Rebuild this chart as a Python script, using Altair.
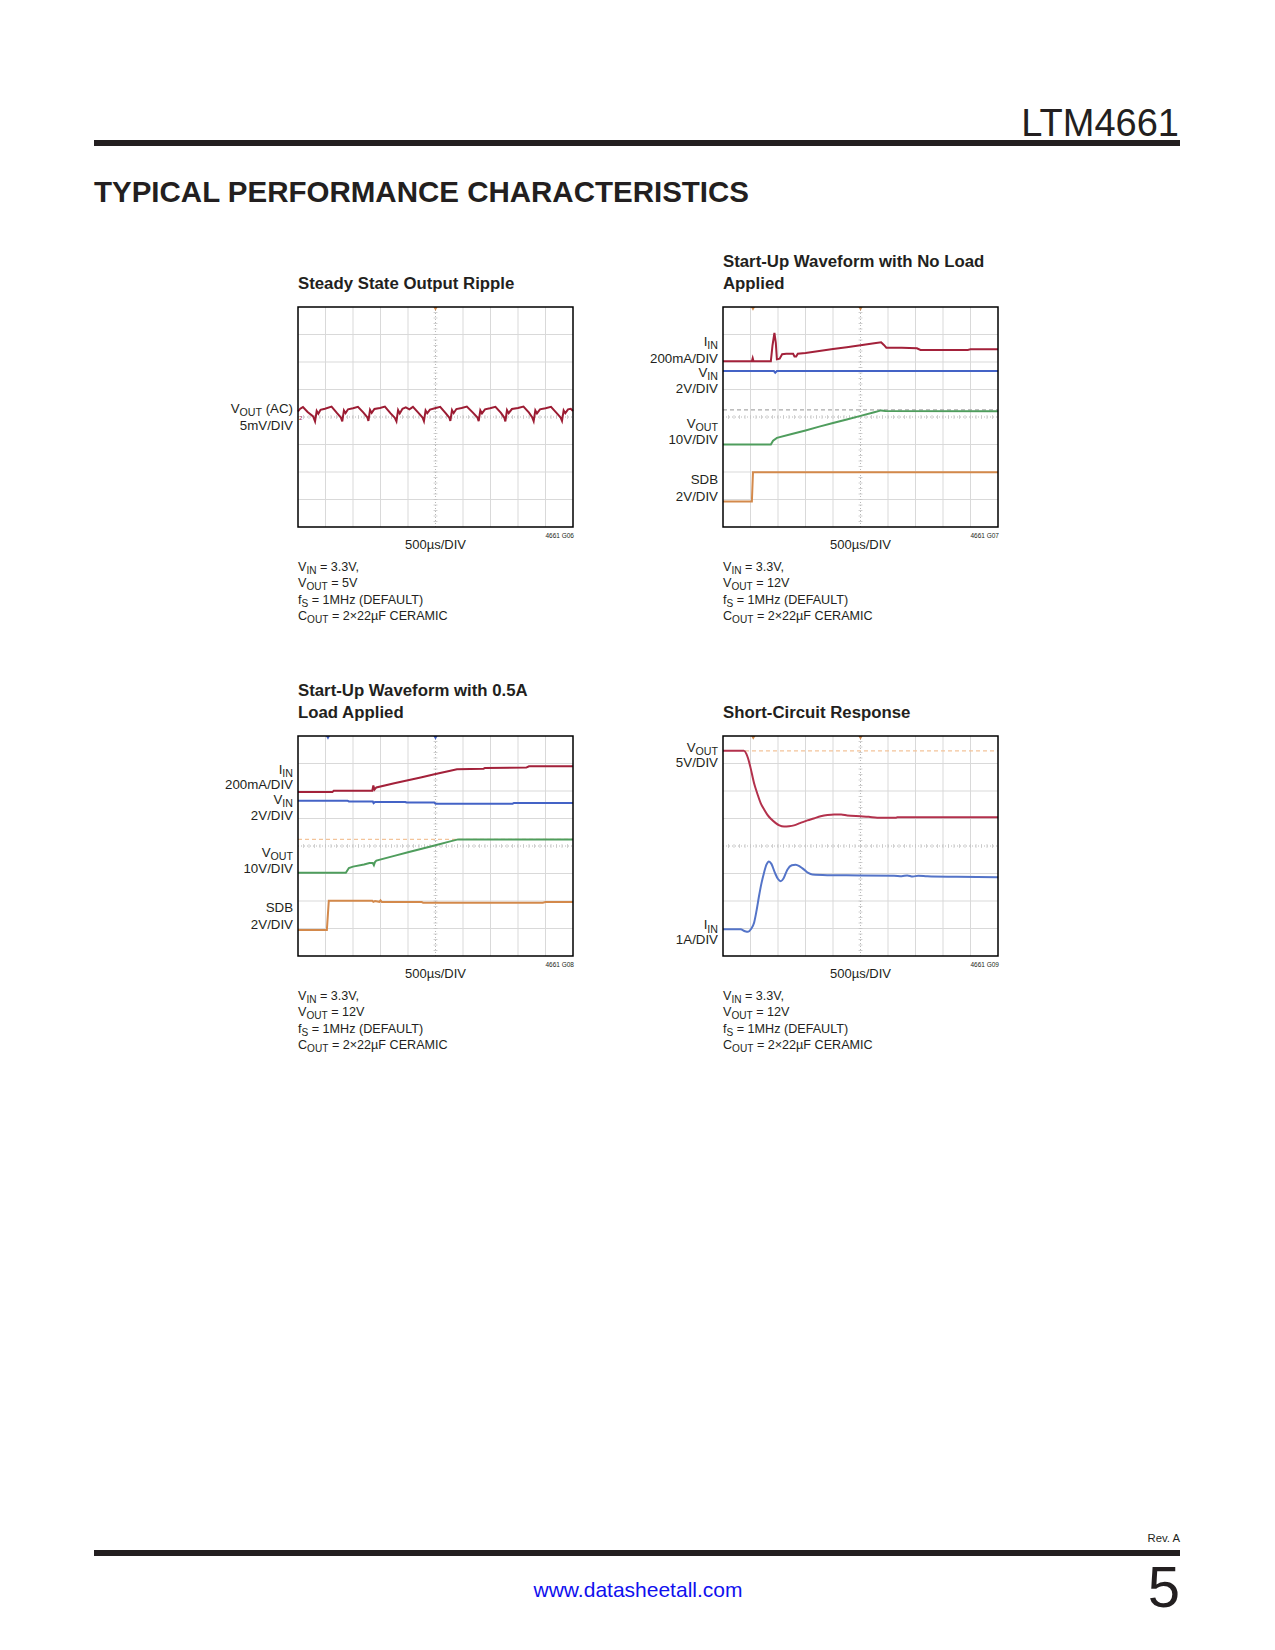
import altair as alt
import pandas as pd
import numpy as np

# ------------------------------------------------------------------ content
PART = "LTM4661"
SECTION = "TYPICAL PERFORMANCE CHARACTERISTICS"
REV = "Rev. A"
PAGE_NO = "5"
URL = "www.datasheetall.com"
TIME_DIV = "500µs/DIV"

titles = [
    ["Steady State Output Ripple"],
    ["Start-Up Waveform with No Load", "Applied"],
    ["Start-Up Waveform with 0.5A", "Load Applied"],
    ["Short-Circuit Response"],
]
fig_ids = ["4661 G06", "4661 G07", "4661 G08", "4661 G09"]

cap_vin = [("V", 0), ("IN", 1), (" = 3.3V,", 0)]
cap_fs = [("f", 0), ("S", 1), (" = 1MHz (DEFAULT)", 0)]
cap_cout = [("C", 0), ("OUT", 1), (" = 2×22µF CERAMIC", 0)]
captions = [
    [cap_vin, [("V", 0), ("OUT", 1), (" = 5V", 0)], cap_fs, cap_cout],
    [cap_vin, [("V", 0), ("OUT", 1), (" = 12V", 0)], cap_fs, cap_cout],
    [cap_vin, [("V", 0), ("OUT", 1), (" = 12V", 0)], cap_fs, cap_cout],
    [cap_vin, [("V", 0), ("OUT", 1), (" = 12V", 0)], cap_fs, cap_cout],
]

ch_labels = [
    [[("V", 0), ("OUT", 1), (" (AC)", 0)], [("5mV/DIV", 0)]],
    [[("I", 0), ("IN", 1)], [("200mA/DIV", 0)], [("V", 0), ("IN", 1)], [("2V/DIV", 0)],
     [("V", 0), ("OUT", 1)], [("10V/DIV", 0)], [("SDB", 0)], [("2V/DIV", 0)]],
    [[("I", 0), ("IN", 1)], [("200mA/DIV", 0)], [("V", 0), ("IN", 1)], [("2V/DIV", 0)],
     [("V", 0), ("OUT", 1)], [("10V/DIV", 0)], [("SDB", 0)], [("2V/DIV", 0)]],
    [[("V", 0), ("OUT", 1)], [("5V/DIV", 0)], [("I", 0), ("IN", 1)], [("1A/DIV", 0)]],
]

# ------------------------------------------------------------------ traces (divisions)
# Scope 1: VOUT ripple
rip_x = [0.00, 0.08, 0.18, 0.35, 0.55, 0.62, 0.68, 0.74, 0.82, 0.98, 1.22, 1.42, 1.56, 1.61, 1.67,
         1.73, 1.82, 2.00, 2.18, 2.38, 2.52, 2.56, 2.62, 2.68, 2.78, 2.98, 3.16, 3.36, 3.52, 3.58,
         3.64, 3.70, 3.80, 3.92, 4.05, 4.18, 4.38, 4.53, 4.58, 4.64, 4.70, 4.80, 4.98, 5.17, 5.36,
         5.50, 5.54, 5.60, 5.66, 5.76, 5.95, 6.14, 6.36, 6.52, 6.57, 6.63, 6.69, 6.80, 6.98, 7.18,
         7.38, 7.50, 7.54, 7.60, 7.66, 7.78, 8.00, 8.20, 8.40, 8.52, 8.57, 8.63, 8.69, 8.80, 9.00,
         9.20, 9.40, 9.55, 9.60, 9.66, 9.72, 9.82, 9.92, 10.00]
rip_y = [4.20, 4.30, 4.36, 4.18, 4.02, 3.84, 4.22, 4.12, 4.26, 4.30, 4.38, 4.14, 3.98, 3.84, 4.24,
         4.14, 4.28, 4.32, 4.37, 4.16, 3.99, 3.86, 4.26, 4.15, 4.29, 4.33, 4.38, 4.14, 3.97, 3.84,
         4.25, 4.13, 4.30, 4.35, 4.28, 4.37, 4.15, 3.98, 3.85, 4.24, 4.14, 4.27, 4.32, 4.37, 4.15,
         3.98, 3.86, 4.25, 4.14, 4.29, 4.33, 4.38, 4.16, 3.99, 3.85, 4.24, 4.13, 4.28, 4.32, 4.37,
         4.15, 3.98, 3.84, 4.25, 4.14, 4.29, 4.33, 4.38, 4.16, 3.98, 3.85, 4.24, 4.13, 4.28, 4.32,
         4.37, 4.15, 3.98, 3.86, 4.24, 4.14, 4.28, 4.30, 4.22]

# Scope 2: start-up, no load
s2_iin_x = [0, 1.05, 1.08, 1.11, 1.74, 1.80, 1.87, 1.92, 1.96, 2.06, 2.15, 2.30, 2.55, 2.60, 2.66,
            2.72, 3.00, 3.50, 4.00, 4.50, 5.00, 5.50, 5.75, 5.85, 5.94, 6.50, 7.05, 7.18, 8.90, 9.00, 10]
s2_iin_y = [6.03, 6.03, 6.14, 6.03, 6.03, 6.60, 7.06, 6.70, 6.10, 6.12, 6.28, 6.30, 6.30, 6.20, 6.20,
            6.30, 6.33, 6.40, 6.47, 6.54, 6.61, 6.68, 6.72, 6.62, 6.52, 6.52, 6.50, 6.44, 6.44, 6.46, 6.46]
s2_vin_x = [0, 1.85, 1.90, 1.96, 10]
s2_vin_y = [5.67, 5.67, 5.61, 5.67, 5.67]
s2_vout_x = [0, 1.74, 1.82, 1.96, 2.50, 3.00, 3.50, 4.00, 4.50, 5.00, 5.50, 5.75, 5.90, 10]
s2_vout_y = [3.00, 3.00, 3.14, 3.24, 3.38, 3.51, 3.65, 3.78, 3.91, 4.04, 4.17, 4.24, 4.22, 4.21]
s2_sdb_x = [0, 1.05, 1.09, 10]
s2_sdb_y = [0.93, 0.93, 1.99, 1.99]
s2_ref = 4.26

# Scope 3: start-up, 0.5A load
s3_iin_x = [0, 1.25, 1.30, 2.70, 2.74, 2.78, 2.85, 3.50, 4.00, 4.50, 5.00, 5.50, 5.78, 6.75, 6.80, 8.30, 8.40, 10]
s3_iin_y = [5.96, 5.96, 6.01, 6.01, 6.20, 6.05, 6.13, 6.28, 6.39, 6.50, 6.62, 6.73, 6.79, 6.81, 6.84, 6.85, 6.90, 6.90]
s3_vin_x = [0, 1.80, 1.85, 2.72, 2.75, 2.80, 3.90, 3.95, 4.95, 5.00, 7.80, 7.85, 10]
s3_vin_y = [5.65, 5.65, 5.62, 5.62, 5.56, 5.60, 5.60, 5.58, 5.58, 5.54, 5.54, 5.56, 5.56]
s3_vout_x = [0, 1.74, 1.85, 2.00, 2.40, 2.60, 2.72, 2.76, 2.80, 2.85, 3.50, 4.00, 4.50, 5.00, 5.50, 5.82, 10]
s3_vout_y = [3.03, 3.03, 3.20, 3.25, 3.33, 3.38, 3.38, 3.30, 3.42, 3.47, 3.64, 3.77, 3.90, 4.03, 4.16, 4.24, 4.24]
s3_sdb_x = [0, 1.05, 1.12, 2.70, 2.74, 2.80, 2.96, 3.00, 3.05, 4.50, 4.55, 8.90, 9.00, 10]
s3_sdb_y = [0.95, 0.95, 2.01, 2.01, 1.97, 2.00, 1.97, 2.02, 1.96, 1.96, 1.94, 1.94, 1.96, 1.96]
s3_ref = 4.24

# Scope 4: short-circuit response
s4_vout_x = [0, 0.76, 0.85, 0.91, 1.00, 1.13, 1.25, 1.37, 1.50, 1.61, 1.75, 1.92, 2.05, 2.22, 2.40,
             2.58, 2.80, 3.07, 3.30, 3.55, 3.80, 4.04, 4.30, 4.52, 5.00, 5.30, 5.61, 6.30, 6.34, 10]
s4_vout_y = [7.46, 7.46, 7.35, 7.19, 6.85, 6.28, 5.90, 5.56, 5.32, 5.14, 4.98, 4.83, 4.75, 4.71, 4.72,
             4.75, 4.83, 4.93, 5.00, 5.08, 5.13, 5.15, 5.15, 5.11, 5.08, 5.06, 5.03, 5.03, 5.05, 5.05]
s4_iin_x = [0, 0.64, 0.80, 0.91, 1.02, 1.13, 1.22, 1.31, 1.40, 1.49, 1.58, 1.67, 1.76, 1.89, 2.00,
            2.10, 2.20, 2.34, 2.50, 2.64, 2.80, 2.95, 3.10, 3.25, 3.79, 5.00, 6.22, 6.50, 6.70, 6.90,
            7.10, 7.43, 8.50, 10]
s4_iin_y = [0.97, 0.97, 0.90, 0.88, 0.98, 1.21, 1.65, 2.18, 2.65, 3.02, 3.32, 3.44, 3.35, 3.02, 2.80,
            2.72, 2.82, 3.14, 3.30, 3.32, 3.25, 3.14, 3.02, 2.96, 2.94, 2.93, 2.92, 2.90, 2.93, 2.89,
            2.92, 2.90, 2.88, 2.86]
s4_ref = 7.46

trigger_x = [[5.0], [1.09, 5.0], [1.09, 5.0], [1.10, 5.0]]

# ------------------------------------------------------------------ styling / layout
RED = "#a3213a"
BLUE = "#4463c6"
GREEN = "#4f9d5d"
ORANGE = "#d3894b"
INK = "#231f20"
FONT = "Liberation Sans, Arial, sans-serif"

W, H = 1259, 1620
OX, OY = 8, 8
DIV = 27.5
frames = [(298, 307), (723, 307), (298, 736), (723, 736)]  # page px, top-left of graticule

AW = {' ': 278, '.': 278, ',': 278, '=': 584, '(': 333, ')': 333, '/': 278, '×': 584, 'µ': 576, '-': 333,
      'A': 667, 'B': 667, 'C': 722, 'D': 722, 'E': 667, 'F': 611, 'H': 722, 'I': 278, 'L': 556,
      'M': 833, 'N': 722, 'O': 778, 'R': 722, 'S': 667, 'T': 611, 'U': 722, 'V': 667,
      'f': 278, 'm': 833, 'z': 500}


def tw(s, size):
    return sum(AW.get(c, 556) for c in s) / 1000 * size


def rich(segs, x, y, size, align="left", color=INK):
    sub = size * 0.8
    widths = [tw(t, sub if s else size) for t, s in segs]
    total = sum(widths)
    cur = x - total if align == "right" else x
    rows = []
    for (t, s), w in zip(segs, widths):
        sz = sub if s else size
        lead = len(t) - len(t.lstrip(" "))
        rows.append(dict(x=cur + tw(" " * lead, sz) - OX, y=y + (size * 0.25 if s else 0) - OY,
                         text=t.strip(" "), size=sz, color=color))
        cur += w
    return rows


left_rows, right_rows, center_rows, bold_rows = [], [], [], []

label_offsets = [[106, 123],
                 [39, 56.3, 69.7, 85.7, 120.7, 137.3, 177.3, 194],
                 [38, 53.3, 68, 84, 120.7, 137.3, 176, 193.3],
                 [15.7, 31.3, 193.3, 208]]

LBL = 13.3
CAP = 12.6
for k, (L, T) in enumerate(frames):
    n = len(titles[k])
    for j, line in enumerate(titles[k]):
        bold_rows.append(dict(x=L - OX, y=T - 18 - 22 * (n - 1 - j) - OY, text=line, size=16.8, color=INK))
    for segs, off in zip(ch_labels[k], label_offsets[k]):
        left_rows.extend(rich(segs, L - 5, T + off, LBL, align="right"))
    center_rows.append(dict(x=L + 5 * DIV - OX, y=T + 242 - OY, text=TIME_DIV, size=13, color=INK))
    right_rows.append(dict(x=L + 10 * DIV + 1 - OX, y=T + 231 - OY, text=fig_ids[k], size=6.5, color=INK))
    for j, segs in enumerate(captions[k]):
        left_rows.extend(rich(segs, L, T + 264 + 16.3 * j, CAP))

right_rows.append(dict(x=1179 - OX, y=136 - OY, text=PART, size=38, color=INK))
right_rows.append(dict(x=1180 - OX, y=1542 - OY, text=REV, size=11.3, color=INK))
right_rows.append(dict(x=1180 - OX, y=1607 - OY, text=PAGE_NO, size=58, color=INK))
center_rows.append(dict(x=638 - OX, y=1597 - OY, text=URL, size=21, color="#1010ee"))

title_rows = [dict(x=94 - OX, y=202 - OY, text=SECTION, size=29.5, color=INK)]


def text_layer(rows, align, weight="normal", font=FONT):
    df = pd.DataFrame(rows)
    return alt.Chart(df).mark_text(align=align, baseline="alphabetic", font=font, fontWeight=weight).encode(
        x=alt.X("x:Q", scale=None, axis=None),
        y=alt.Y("y:Q", scale=None, axis=None),
        text="text:N",
        size=alt.Size("size:Q", scale=None, legend=None),
        color=alt.Color("color:N", scale=None, legend=None),
    )


bars_df = pd.DataFrame([dict(x=94 - OX, x2=1180 - OX, y=140 - OY, y2=146 - OY),
                        dict(x=94 - OX, x2=1180 - OX, y=1550 - OY, y2=1556 - OY)])
bars = alt.Chart(bars_df).mark_rect(color=INK).encode(
    x=alt.X("x:Q", scale=None, axis=None), x2="x2:Q",
    y=alt.Y("y:Q", scale=None, axis=None), y2="y2:Q")

page = alt.layer(
    bars,
    text_layer(left_rows, "left"),
    text_layer(right_rows, "right"),
    text_layer(center_rows, "center"),
    text_layer(bold_rows, "left", "bold"),
    text_layer(title_rows, "left", "bold"),
)

# ------------------------------------------------------------------ scopes
major_v = [1, 2, 3, 4, 6, 7, 8, 9]
major_h = [1, 2, 3, 5, 6, 7]


def scope(k, traces, refs, extra_text=None, interp="linear"):
    L, T = frames[k]
    Lc = L - OX
    Bc = T + 8 * DIV - OY
    xs = alt.Scale(domain=[-Lc / DIV, (W - Lc) / DIV], nice=False, zero=False)
    ys = alt.Scale(domain=[-(H - Bc) / DIV, Bc / DIV], nice=False, zero=False)

    def enc(ch):
        return ch.encode(x=alt.X("x:Q", scale=xs, axis=None), y=alt.Y("y:Q", scale=ys, axis=None),
                         x2="x2:Q", y2="y2:Q")

    grid = pd.DataFrame([dict(x=v, x2=v, y=0, y2=8) for v in major_v] +
                        [dict(x=0, x2=10, y=h, y2=h) for h in major_h])
    center = pd.DataFrame([dict(x=5, x2=5, y=0, y2=8), dict(x=0, x2=10, y=4, y2=4)])
    ticks = pd.DataFrame([dict(x=t, x2=t, y=3.93, y2=4.07) for t in np.arange(0.2, 10, 0.2)] +
                         [dict(x=4.93, x2=5.07, y=t, y2=t) for t in np.arange(0.2, 8, 0.2)])
    frame = pd.DataFrame([dict(x=0, x2=10, y=0, y2=8)])

    layers = [
        enc(alt.Chart(grid).mark_rule(color="#d9d9d9", strokeWidth=1)),
        enc(alt.Chart(center).mark_rule(color="#b8b8b8", strokeWidth=1, strokeDash=[1, 2])),
        enc(alt.Chart(ticks).mark_rule(color="#c4c4c4", strokeWidth=0.8)),
    ]
    for (ry, rc, rx0) in refs:
        rdf = pd.DataFrame([dict(x=rx0, x2=10, y=ry, y2=ry)])
        layers.append(enc(alt.Chart(rdf).mark_rule(color=rc, strokeWidth=1.2, strokeDash=[4, 3])))

    rows = []
    for name, (tx, ty, col) in traces.items():
        for i, (a, b) in enumerate(zip(tx, ty)):
            rows.append(dict(x=a, y=b, trace=name, color=col, i=i))
    tdf = pd.DataFrame(rows)
    layers.append(alt.Chart(tdf).mark_line(strokeWidth=2, interpolate=interp).encode(
        x=alt.X("x:Q", scale=xs, axis=None), y=alt.Y("y:Q", scale=ys, axis=None),
        color=alt.Color("color:N", scale=None, legend=None), detail="trace:N", order="i:Q"))

    mcol = BLUE if k == 2 else ORANGE
    mdf = pd.DataFrame([dict(x=v, y=7.93) for v in trigger_x[k]])
    layers.append(alt.Chart(mdf).mark_point(shape="triangle-down", filled=True, size=18, color=mcol, opacity=1).encode(
        x=alt.X("x:Q", scale=xs, axis=None), y=alt.Y("y:Q", scale=ys, axis=None)))

    if extra_text is not None:
        layers.append(alt.Chart(pd.DataFrame(extra_text)).mark_text(
            align="left", baseline="middle", font=FONT, fontSize=6, color=RED).encode(
            x=alt.X("x:Q", scale=xs, axis=None), y=alt.Y("y:Q", scale=ys, axis=None), text="text:N"))

    layers.append(enc(alt.Chart(frame).mark_rect(fillOpacity=0, stroke="black", strokeWidth=1.5)))
    return alt.layer(*layers)


s1 = scope(0, {"vout": (rip_x, rip_y, "#9c1c33")}, [], extra_text=[dict(x=0.04, y=3.98, text="2")])
s2 = scope(1, {"iin": (s2_iin_x, s2_iin_y, RED), "vin": (s2_vin_x, s2_vin_y, BLUE),
               "vout": (s2_vout_x, s2_vout_y, GREEN), "sdb": (s2_sdb_x, s2_sdb_y, ORANGE)},
           [(s2_ref, "#a9a9a9", 0)])
s3 = scope(2, {"iin": (s3_iin_x, s3_iin_y, RED), "vin": (s3_vin_x, s3_vin_y, BLUE),
               "vout": (s3_vout_x, s3_vout_y, GREEN), "sdb": (s3_sdb_x, s3_sdb_y, ORANGE)},
           [(s3_ref, "#f3c49a", 0)])
s4 = scope(3, {"vout": (s4_vout_x, s4_vout_y, "#b3314c"), "iin": (s4_iin_x, s4_iin_y, "#5474c8")},
           [(s4_ref, "#f3c49a", 0.8)], interp="monotone")

chart = alt.layer(page, s1, s2, s3, s4).resolve_scale(x="independent", y="independent").properties(
    width=W, height=H, autosize=alt.AutoSizeParams(type="none"), padding=0, background="white"
).configure_view(strokeWidth=0)

chart.save("out.html", embed_options={"renderer": "svg", "actions": False})
